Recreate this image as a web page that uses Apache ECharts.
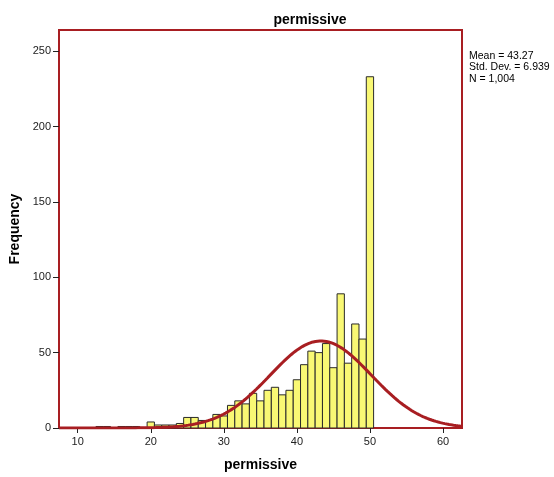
<!DOCTYPE html>
<html>
<head>
<meta charset="utf-8">
<script src="https://cdn.jsdelivr.net/npm/echarts@6/dist/echarts.min.js"></script>
<style>
  html, body { margin: 0; padding: 0; background: #fff; }
  #chart { width: 554px; height: 477px; }
</style>
</head>
<body>
<div id="chart"></div>
<script>
// Histogram of "permissive" scores: bins of width 1 centred on integers
const binCenters = [13, 14, 15, 16, 17, 18, 19, 20, 21, 22, 23, 24, 25, 26, 27, 28, 29, 30,
                    31, 32, 33, 34, 35, 36, 37, 38, 39, 40, 41, 42, 43, 44, 45, 46, 47, 48, 49, 50];
const frequencies = [1, 1, 0, 1, 1, 1, 0, 4, 2, 2, 2, 3, 7, 7, 5, 5, 9, 8,
                     15, 18, 16, 23, 18, 25, 27, 22, 25, 32, 42, 51, 50, 56, 40, 89, 43, 69, 59, 233];
const xTicks = [10, 20, 30, 40, 50, 60];
const yTicks = [0, 50, 100, 150, 200, 250];

// Summary statistics shown beside the plot
const statMean = 43.27;
const statSD = 6.939;
const statN = 1004;
const binWidth = 1;

const xMin = 7.44, xMax = 62.6;
const yMax = 264;

// Fitted normal curve from the stated mean, SD and N
const curve = [];
for (let x = xMin; x <= xMax + 1e-9; x += 0.1) {
  const z = (x - statMean) / statSD;
  curve.push([x, statN * binWidth / (statSD * Math.sqrt(2 * Math.PI)) * Math.exp(-0.5 * z * z)]);
}

const bars = binCenters.map((c, i) => [c, frequencies[i]]);
const fmtN = statN.toLocaleString('en-US');

const chart = echarts.init(document.getElementById('chart'), null, { renderer: 'canvas' });
chart.setOption({
  animation: false,
  backgroundColor: '#ffffff',
  textStyle: { fontFamily: 'Liberation Sans, Arial, sans-serif' },
  title: {
    text: 'permissive',
    left: 305, top: 8, textAlign: 'center',
    textStyle: { fontSize: 14, fontWeight: 'bold', color: '#000' }
  },
  graphic: [{
    type: 'text', left: 469, top: 50,
    style: {
      text: 'Mean = ' + statMean + '\nStd. Dev. = ' + statSD + '\nN = ' + fmtN,
      font: '10.5px "Liberation Sans", Arial, sans-serif',
      fill: '#000', lineHeight: 11.5
    }
  }],
  grid: {
    left: 59, right: 92, top: 30, bottom: 49,
    outerBoundsMode: 'none',
    containLabel: false,
    show: true, borderColor: '#a81e22', borderWidth: 2, backgroundColor: '#fff'
  },
  xAxis: {
    type: 'value', min: xMin, max: xMax,
    name: 'permissive', nameLocation: 'middle', nameGap: 30,
    nameTextStyle: { fontSize: 14, fontWeight: 'bold', color: '#000' },
    axisLine: { show: false },
    splitLine: { show: false },
    axisTick: { show: true, length: 5, lineStyle: { color: '#222' }, customValues: xTicks },
    axisLabel: { fontSize: 11, color: '#222', margin: 8, customValues: xTicks }
  },
  yAxis: {
    type: 'value', min: 0, max: yMax,
    name: 'Frequency', nameLocation: 'middle', nameGap: 34,
    nameTextStyle: { fontSize: 14, fontWeight: 'bold', color: '#000' },
    axisLine: { show: false },
    splitLine: { show: false },
    axisTick: { show: true, length: 6, lineStyle: { color: '#222' }, customValues: yTicks },
    axisLabel: { fontSize: 11, color: '#222', margin: 8, customValues: yTicks }
  },
  series: [
    {
      type: 'custom',
      data: bars,
      renderItem: function (params, api) {
        const c = api.value(0), v = api.value(1);
        if (v <= 0) return null;
        const p0 = api.coord([c - binWidth / 2, 0]);
        const p1 = api.coord([c + binWidth / 2, v]);
        return {
          type: 'rect',
          shape: { x: p0[0], y: p1[1], width: p1[0] - p0[0], height: p0[1] - p1[1] },
          style: { fill: '#f9f874', stroke: '#2a2a2a', lineWidth: 1 }
        };
      },
      z: 2
    },
    {
      type: 'line',
      data: curve,
      showSymbol: false,
      smooth: false,
      lineStyle: { color: '#a81e22', width: 3 },
      z: 3
    }
  ]
});
</script>
</body>
</html>
